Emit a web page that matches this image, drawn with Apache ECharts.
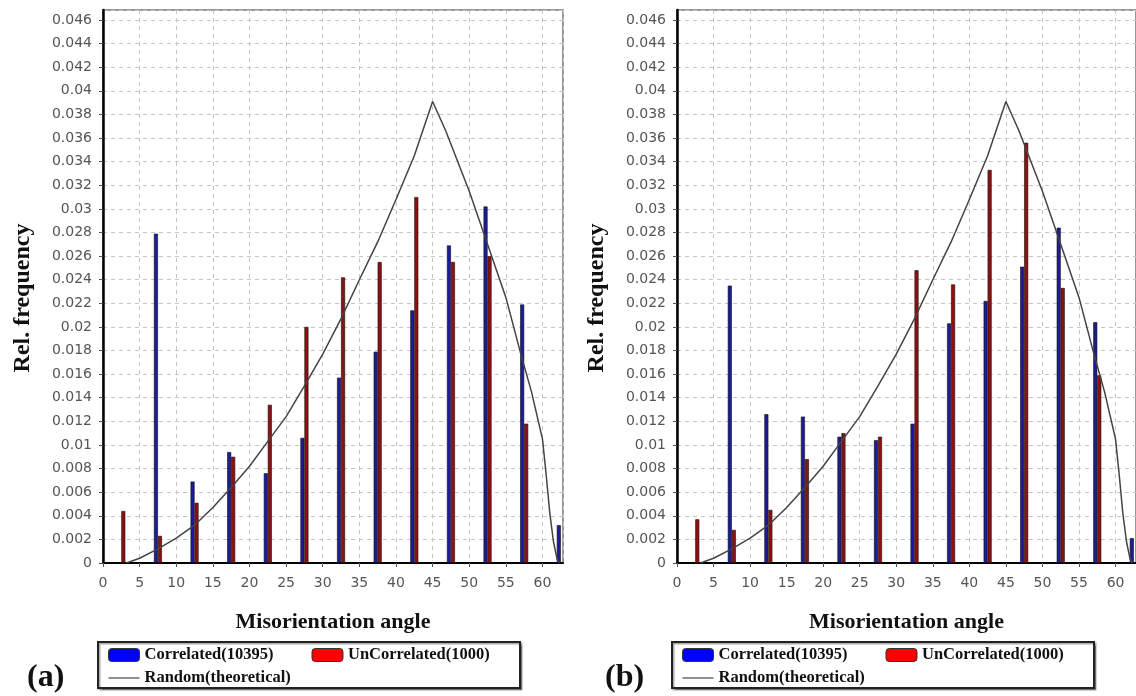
<!DOCTYPE html>
<html>
<head>
<meta charset="utf-8">
<script src="https://cdn.jsdelivr.net/npm/echarts@6/dist/echarts.min.js"></script>
<style>
html,body{margin:0;padding:0;background:#fff;}
#chart{width:1136px;height:696px;}
</style>
</head>
<body>
<div id="chart"></div>
<script>
// ---- data ----
var angles = [2.5, 7.5, 12.5, 17.5, 22.5, 27.5, 32.5, 37.5, 42.5, 47.5, 52.5, 57.5, 62.5];
var correlatedA   = [0, 0.0279, 0.0069, 0.0094, 0.0076, 0.0106, 0.0157, 0.0179, 0.0214, 0.0269, 0.0302, 0.0219, 0.0032];
var uncorrelatedA = [0.0044, 0.0023, 0.0051, 0.0090, 0.0134, 0.0200, 0.0242, 0.0255, 0.0310, 0.0255, 0.0260, 0.0118, 0];
var correlatedB   = [0, 0.0235, 0.0126, 0.0124, 0.0107, 0.0104, 0.0118, 0.0203, 0.0222, 0.0251, 0.0284, 0.0204, 0.0021];
var uncorrelatedB = [0.0037, 0.0028, 0.0045, 0.0088, 0.0110, 0.0107, 0.0248, 0.0236, 0.0333, 0.0356, 0.0233, 0.0159, 0];
var randomX = [3.2, 5, 7.5, 10, 12.5, 15, 17.5, 20, 22.5, 25, 27.5, 30, 32.5, 35, 37.5, 40, 42.5, 45, 46.8, 50, 52.5, 55, 57, 58.5, 60, 60.5, 61, 61.5, 62, 62.3];
var randomY = [0, 0.0004, 0.0012, 0.0021, 0.0032, 0.0047, 0.0064, 0.0082, 0.0103, 0.0124, 0.0150, 0.0177, 0.0207, 0.0240, 0.0272, 0.0308, 0.0345, 0.0391, 0.0366, 0.0315, 0.0270, 0.0225, 0.0178, 0.0145, 0.0105, 0.0075, 0.0042, 0.0018, 0.0003, 0];
var nameCorr = 'Correlated(10395)';
var nameUnc = 'UnCorrelated(1000)';
var nameRand = 'Random(theoretical)';
var xTitle = 'Misorientation angle';
var yTitle = 'Rel. frequency';
var panelLabels = ['(a)', '(b)'];

function pairs(xs, ys){
  var out = [];
  for (var i = 0; i < xs.length; i++) { if (ys[i] > 0) out.push([xs[i], ys[i]]); }
  return out;
}
function linePairs(xs, ys){
  var out = [];
  for (var i = 0; i < xs.length; i++) out.push([xs[i], ys[i]]);
  return out;
}

var tickFont = {fontFamily: 'DejaVu Sans', fontSize: 14, color: '#555'};
var titleFont = {fontFamily: 'Liberation Serif', fontWeight: 'bold', fontSize: 22, color: '#111'};

function xAxis(idx){
  return {
    type: 'value', gridIndex: idx, min: 0, max: 62.8, interval: 5,
    name: xTitle, nameLocation: 'middle', nameGap: 48, nameTextStyle: titleFont,
    axisLine: {show: true, onZero: false, lineStyle: {color: '#000', width: 2}},
    axisTick: {show: true, length: 4, lineStyle: {color: '#555'}},
    axisLabel: Object.assign({margin: 13, showMaxLabel: false}, tickFont),
    splitLine: {show: true, lineStyle: {color: '#c4c4c4', type: [4, 4], width: 1}}
  };
}
function yAxis(idx){
  return {
    type: 'value', gridIndex: idx, min: 0, max: 0.04685, interval: 0.002,
    axisLine: {show: true, lineStyle: {color: '#000', width: 2.5}},
    axisTick: {show: true, length: 4, lineStyle: {color: '#555'}},
    axisLabel: Object.assign({margin: 11, showMaxLabel: false}, tickFont),
    splitLine: {show: true, lineStyle: {color: '#c4c4c4', type: [4, 4], width: 1}}
  };
}
function barSeries(name, idx, data, color){
  return {
    name: name, type: 'bar', xAxisIndex: idx, yAxisIndex: idx,
    data: data, barWidth: 4, barGap: '0%',
    itemStyle: {color: color, borderColor: '#111', borderWidth: 0.6},
    animation: false
  };
}
function lineSeries(idx){
  return {
    name: nameRand, type: 'line', xAxisIndex: idx, yAxisIndex: idx,
    data: linePairs(randomX, randomY), symbol: 'none', smooth: false,
    lineStyle: {color: '#444', width: 1.5}, z: 3, animation: false
  };
}
function legend(left){
  return {
    left: left, top: 642, width: 430, orient: 'horizontal',
    padding: [4, 10, 1, 10], itemGap: 5, itemWidth: 31, itemHeight: 13,
    borderColor: '#222', borderWidth: 2,
    shadowColor: 'rgba(0,0,0,0.35)', shadowOffsetX: 1.5, shadowOffsetY: 1.5, shadowBlur: 1,
    backgroundColor: '#fff',
    selectedMode: false,
    textStyle: {fontFamily: 'Liberation Serif', fontWeight: 'bold', fontSize: 16.5, color: '#111', width: 162, lineHeight: 18},
    data: [
      {name: nameCorr, itemStyle: {color: '#0000ff', borderColor: '#333', borderWidth: 1}},
      {name: nameUnc, itemStyle: {color: '#ff0000', borderColor: '#333', borderWidth: 1}},
      {name: nameRand, itemStyle: {color: 'rgba(0,0,0,0)', borderColor: 'rgba(0,0,0,0)', opacity: 0}, lineStyle: {color: '#222', width: 1}}
    ]
  };
}
function yTitleText(cx, cy){
  return {type: 'text', x: cx, y: cy, rotation: Math.PI / 2,
    style: {text: yTitle, font: 'bold 24px "Liberation Serif"', fill: '#111', align: 'center', verticalAlign: 'middle'}};
}

var chart = echarts.init(document.getElementById('chart'), null, {renderer: 'canvas'});
chart.setOption({
  backgroundColor: '#fff',
  animation: false,
  grid: [
    {left: 103, top: 10, width: 460, height: 553, show: true, borderColor: '#777', borderWidth: 1.5},
    {left: 677, top: 10, width: 459, height: 553, show: true, borderColor: '#777', borderWidth: 1.5}
  ],
  xAxis: [xAxis(0), xAxis(1)],
  yAxis: [yAxis(0), yAxis(1)],
  legend: [legend(98), legend(672)],
  graphic: [
    yTitleText(23, 298),
    yTitleText(597, 298),
    {type: 'text', left: 27, top: 662, style: {text: panelLabels[0], font: 'bold 32px "Liberation Serif"', fill: '#111'}},
    {type: 'text', left: 605, top: 662, style: {text: panelLabels[1], font: 'bold 32px "Liberation Serif"', fill: '#111'}}
  ],
  series: [
    barSeries(nameCorr, 0, pairs(angles, correlatedA), '#1c1c95'),
    barSeries(nameUnc, 0, pairs(angles, uncorrelatedA), '#8e1010'),
    lineSeries(0),
    barSeries(nameCorr, 1, pairs(angles, correlatedB), '#1c1c95'),
    barSeries(nameUnc, 1, pairs(angles, uncorrelatedB), '#8e1010'),
    lineSeries(1)
  ]
});
</script>
</body>
</html>
